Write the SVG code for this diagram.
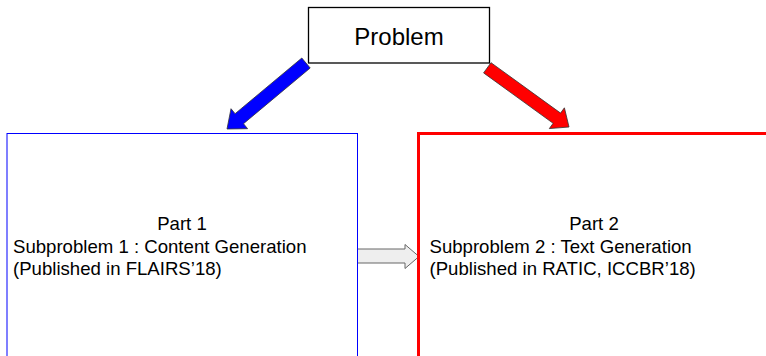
<svg xmlns="http://www.w3.org/2000/svg" width="766" height="356" viewBox="0 0 766 356">
<style>
text{font-family:"Liberation Sans",Arial,sans-serif;fill:#000}
.t{font-size:18.6px}
.box{fill:#fff}
</style>
<rect width="766" height="356" fill="#fff"/>
<g id="connectors">
<polygon points="301.8,58 310.2,68 243.5,123.7 247.6,128.7 227,129 231,108.7 235.1,113.7" fill="#0000ff" stroke="#333" stroke-width="0.8"/>
<polygon points="491,62.7 560.55,113.1 564.4,107.8 569,127 549.3,128.6 553.15,123.3 483.6,72.9" fill="#ff0000" stroke="#333" stroke-width="0.8"/>
<polygon points="357.5,249 405,249 405,244.5 419,256.5 405,268.5 405,263 357.5,263" fill="#eeeeee" stroke="#666" stroke-width="1"/>
</g>
<g id="problem">
<rect class="box" x="308.5" y="7.5" width="181" height="55.5" stroke="#000" stroke-width="1.3"/>
<text x="399" y="45" font-size="24" text-anchor="middle">Problem</text>
</g>
<g id="part1">
<rect x="7" y="133.5" width="350.5" height="240" fill="none" stroke="#0000ff" stroke-width="1"/>
<text class="t" x="182" y="230" text-anchor="middle">Part 1</text>
<text class="t" x="13" y="252.5">Subproblem 1 : Content Generation</text>
<text class="t" x="13" y="275">(Published in FLAIRS’18)</text>
</g>
<g id="part2">
<rect x="418.5" y="133.5" width="400" height="240" fill="none" stroke="#ff0000" stroke-width="3"/>
<text class="t" x="594" y="230" text-anchor="middle">Part 2</text>
<text class="t" x="429.5" y="252.5">Subproblem 2 : Text Generation</text>
<text class="t" x="429.5" y="275">(Published in RATIC, ICCBR’18)</text>
</g>
</svg>
